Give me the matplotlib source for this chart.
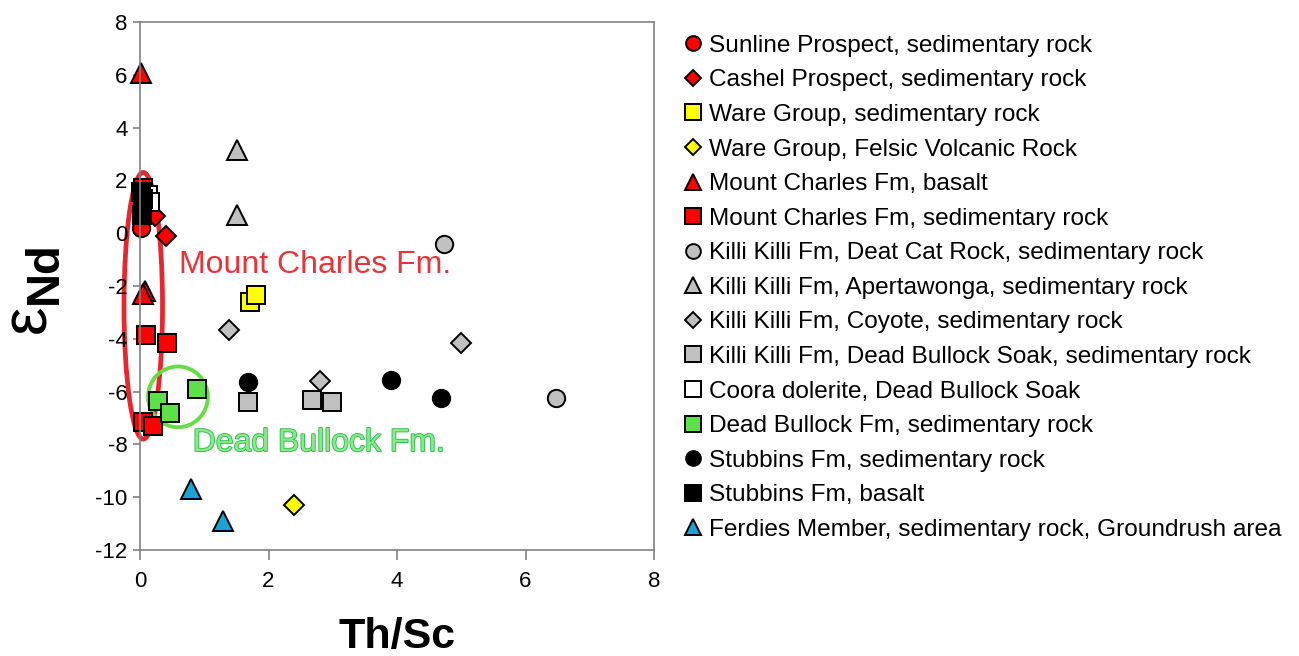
import matplotlib
matplotlib.use("Agg")
import matplotlib.pyplot as plt
from matplotlib.patches import Ellipse
import matplotlib.patheffects as pe

plt.rcParams['font.family'] = ['Liberation Sans', 'DejaVu Sans']
plt.rcParams['axes.unicode_minus'] = False

# series: label, marker, face colour, x values (Th/Sc), y values (eNd)
sunline_x = [0.02]
sunline_y = [0.2]
cashel_x = [0.23, 0.4]
cashel_y = [0.65, -0.1]
ware_sed_x = [1.71, 1.81]
ware_sed_y = [-2.6, -2.35]
ware_felsic_x = [2.4]
ware_felsic_y = [-10.3]
mc_basalt_x = [0.02, 0.08, 0.05]
mc_basalt_y = [6.05, -2.2, -2.3]
mc_sed_x = [0.05, 0.1, 0.42, 0.05, 0.2]
mc_sed_y = [1.7, -3.85, -4.15, -7.15, -7.3]
kk_deatcat_x = [4.73, 6.48]
kk_deatcat_y = [-0.4, -6.25]
kk_aperta_x = [1.51, 1.51]
kk_aperta_y = [3.15, 0.7]
kk_coyote_x = [1.39, 5.0, 2.8]
kk_coyote_y = [-3.65, -4.15, -5.6]
kk_dbs_x = [1.68, 2.68, 2.99]
kk_dbs_y = [-6.4, -6.3, -6.4]
coora_x = [0.12, 0.15]
coora_y = [1.45, 1.2]
db_x = [0.89, 0.28, 0.47]
db_y = [-5.9, -6.35, -6.8]
stub_sed_x = [1.68, 3.9, 4.69]
stub_sed_y = [-5.65, -5.55, -6.25]
stub_bas_x = [0.02, 0.04, 0.03]
stub_bas_y = [1.55, 1.3, 0.68]
ferdies_x = [0.8, 1.29]
ferdies_y = [-9.7, -10.9]

series = [
    ("Sunline Prospect, sedimentary rock", "o", "#ff0000", sunline_x, sunline_y),
    ("Cashel Prospect, sedimentary rock", "D", "#ff0000", cashel_x, cashel_y),
    ("Ware Group, sedimentary rock", "s", "#ffff00", ware_sed_x, ware_sed_y),
    ("Ware Group, Felsic Volcanic Rock", "D", "#ffff00", ware_felsic_x, ware_felsic_y),
    ("Mount Charles Fm, basalt", "^", "#ff0000", mc_basalt_x, mc_basalt_y),
    ("Mount Charles Fm, sedimentary rock", "s", "#ff0000", mc_sed_x, mc_sed_y),
    ("Killi Killi Fm, Deat Cat Rock, sedimentary rock", "o", "#c0c0c0", kk_deatcat_x, kk_deatcat_y),
    ("Killi Killi Fm, Apertawonga, sedimentary rock", "^", "#c0c0c0", kk_aperta_x, kk_aperta_y),
    ("Killi Killi Fm, Coyote, sedimentary rock", "D", "#c0c0c0", kk_coyote_x, kk_coyote_y),
    ("Killi Killi Fm, Dead Bullock Soak, sedimentary rock", "s", "#c0c0c0", kk_dbs_x, kk_dbs_y),
    ("Coora dolerite, Dead Bullock Soak", "s", "#ffffff", coora_x, coora_y),
    ("Dead Bullock Fm, sedimentary rock", "s", "#5ee04a", db_x, db_y),
    ("Stubbins Fm, sedimentary rock", "o", "#000000", stub_sed_x, stub_sed_y),
    ("Stubbins Fm, basalt", "s", "#000000", stub_bas_x, stub_bas_y),
    ("Ferdies Member, sedimentary rock, Groundrush area", "^", "#1aa3d4", ferdies_x, ferdies_y),
]
sizes = {"o": 12.5, "s": 13, "D": 10, "^": 14}

fig = plt.figure(figsize=(12.99, 6.56), dpi=100)
ax = fig.add_axes([0.1078, 0.1616, 0.3957, 0.8049])

handles = []
for label, m, c, xs, ys in series:
    h, = ax.plot(xs, ys, linestyle='none', marker=m, markersize=sizes[m],
                 markerfacecolor=c, markeredgecolor='black', markeredgewidth=1.4,
                 label=label, clip_on=False)
    handles.append(h)

# outline groups
ax.add_patch(Ellipse((0.05, -2.75), 0.6, 10.1, fill=False, edgecolor='#e8262e',
                     linewidth=3.4, zorder=1, clip_on=False))
ax.add_patch(Ellipse((0.59, -6.2), 0.93, 2.3, fill=False, edgecolor='#66dd44',
                     linewidth=2.8, zorder=1, clip_on=False))
ax.text(0.6, -1.2, "Mount Charles Fm.", color='#e8333a', fontsize=23, va='center', ha='left')
ax.text(0.82, -7.95, "Dead Bullock Fm.", color='#8ce88c', fontsize=23, va='center', ha='left',
        path_effects=[pe.withStroke(linewidth=1.2, foreground='#22bb44')])

ax.set_xlim(0, 8)
ax.set_ylim(-12, 8)
ax.set_xticks([0, 2, 4, 6, 8])
ax.set_yticks(range(-12, 9, 2))
for s in ax.spines.values():
    s.set_color('#808080')
    s.set_linewidth(1.2)
ax.tick_params(axis='both', colors='#808080', labelcolor='black', labelsize=16, width=1.2)
ax.tick_params(axis='x', length=7, pad=8)
ax.tick_params(axis='y', length=5, pad=4)

ax.set_xlabel("Th/Sc", fontsize=31, fontweight='bold', labelpad=18)
# y label: epsilon with subscript Nd, drawn as two rotated texts
fig.text(0.0219, 0.5137, "\u03b5", fontsize=46, rotation=90, ha='center', va='center')
fig.text(0.0346, 0.5846, "Nd", fontsize=34, fontweight='bold', rotation=90,
         ha='center', va='center')

fig.legend(handles=handles, loc='upper left', bbox_to_anchor=(0.5157, 0.962), frameon=False,
           fontsize=17.6, labelspacing=0.51, handletextpad=0.1, handlelength=1.1,
           markerscale=0.85, borderaxespad=0)

fig.savefig("out.png", dpi=100)
